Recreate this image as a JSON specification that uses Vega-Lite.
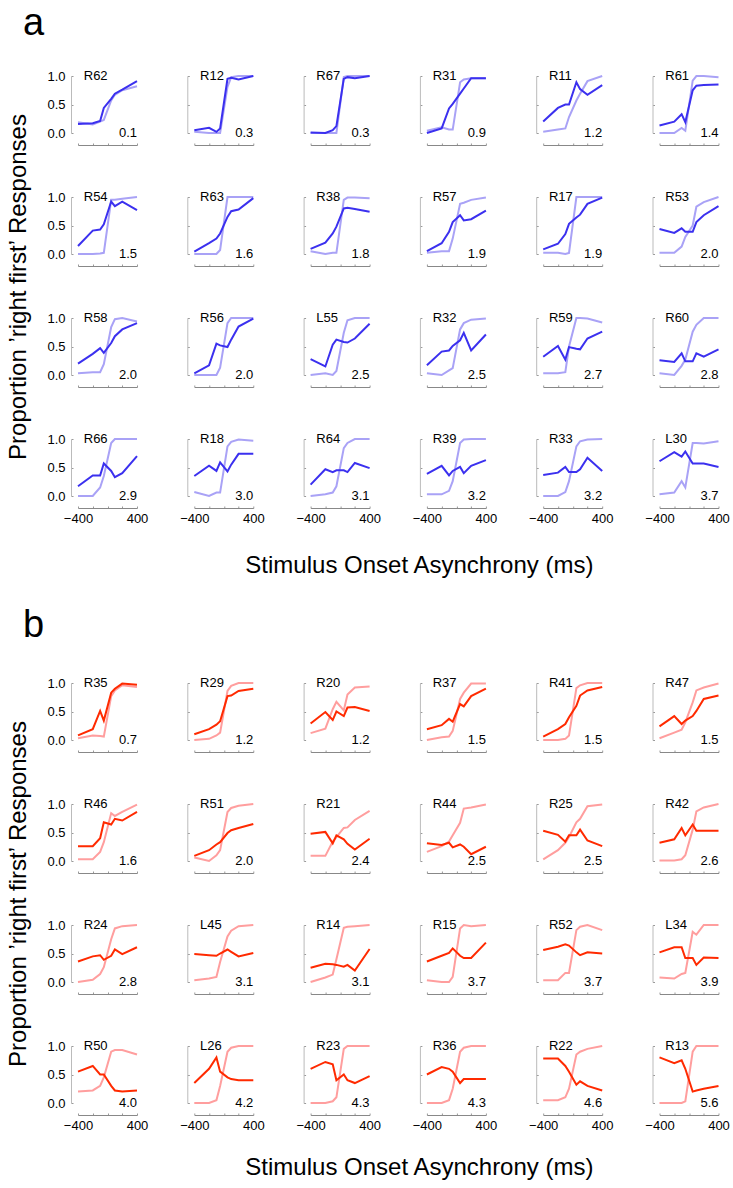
{
"$schema":"https://vega.github.io/schema/vega-lite/v6.json",
"datasets":{
"pts":[
{"s":"R62","t":-400,"u":0.19,"c":0.16},{"s":"R62","t":-200,"u":0.15,"c":0.17},{"s":"R62","t":-100,"u":0.2,"c":0.21},{"s":"R62","t":-50,"u":0.23,"c":0.44},{"s":"R62","t":50,"u":0.57,"c":0.6},{"s":"R62","t":100,"u":0.67,"c":0.69},{"s":"R62","t":200,"u":0.75,"c":0.76},{"s":"R62","t":400,"u":0.82,"c":0.91},
{"s":"R12","t":-400,"u":0.02,"c":0.05},{"s":"R12","t":-200,"u":0,"c":0.09},{"s":"R12","t":-100,"u":0,"c":0.02},{"s":"R12","t":-50,"u":0,"c":0.08},{"s":"R12","t":50,"u":0.81,"c":0.95},{"s":"R12","t":100,"u":0.98,"c":0.97},{"s":"R12","t":200,"u":1,"c":0.94},{"s":"R12","t":400,"u":1,"c":1},
{"s":"R67","t":-400,"u":0,"c":0.01},{"s":"R67","t":-200,"u":0,"c":0},{"s":"R67","t":-100,"u":0,"c":0.05},{"s":"R67","t":-50,"u":0,"c":0.12},{"s":"R67","t":50,"u":0.98,"c":0.95},{"s":"R67","t":100,"u":1,"c":0.98},{"s":"R67","t":200,"u":1,"c":0.96},{"s":"R67","t":400,"u":1,"c":1},
{"s":"R31","t":-400,"u":0.04,"c":0},{"s":"R31","t":-200,"u":0.1,"c":0.08},{"s":"R31","t":-100,"u":0.06,"c":0.43},{"s":"R31","t":-50,"u":0.06,"c":0.51},{"s":"R31","t":50,"u":0.89,"c":0.69},{"s":"R31","t":100,"u":0.94,"c":0.78},{"s":"R31","t":200,"u":0.96,"c":0.96},{"s":"R31","t":400,"u":0.96,"c":0.96},
{"s":"R11","t":-400,"u":0.02,"c":0.2},{"s":"R11","t":-200,"u":0.06,"c":0.44},{"s":"R11","t":-100,"u":0.08,"c":0.5},{"s":"R11","t":-50,"u":0.28,"c":0.5},{"s":"R11","t":50,"u":0.57,"c":0.89},{"s":"R11","t":100,"u":0.69,"c":0.77},{"s":"R11","t":200,"u":0.91,"c":0.67},{"s":"R11","t":400,"u":1,"c":0.84},
{"s":"R61","t":-400,"u":0,"c":0.13},{"s":"R61","t":-200,"u":0,"c":0.2},{"s":"R61","t":-100,"u":0.09,"c":0.33},{"s":"R61","t":-50,"u":0.04,"c":0.19},{"s":"R61","t":50,"u":0.92,"c":0.75},{"s":"R61","t":100,"u":1,"c":0.83},{"s":"R61","t":200,"u":1,"c":0.84},{"s":"R61","t":400,"u":0.98,"c":0.85},
{"s":"R54","t":-400,"u":0,"c":0.14},{"s":"R54","t":-200,"u":0,"c":0.41},{"s":"R54","t":-100,"u":0.01,"c":0.43},{"s":"R54","t":-50,"u":0.02,"c":0.52},{"s":"R54","t":50,"u":0.95,"c":0.92},{"s":"R54","t":100,"u":0.95,"c":0.84},{"s":"R54","t":200,"u":0.97,"c":0.92},{"s":"R54","t":400,"u":1,"c":0.77},
{"s":"R63","t":-400,"u":0,"c":0.04},{"s":"R63","t":-200,"u":0,"c":0.19},{"s":"R63","t":-100,"u":0,"c":0.27},{"s":"R63","t":-50,"u":0.07,"c":0.36},{"s":"R63","t":50,"u":1,"c":0.65},{"s":"R63","t":100,"u":1,"c":0.75},{"s":"R63","t":200,"u":1,"c":0.78},{"s":"R63","t":400,"u":1,"c":0.98},
{"s":"R38","t":-400,"u":0.05,"c":0.09},{"s":"R38","t":-200,"u":0,"c":0.2},{"s":"R38","t":-100,"u":0.02,"c":0.36},{"s":"R38","t":-50,"u":0.02,"c":0.48},{"s":"R38","t":50,"u":0.95,"c":0.8},{"s":"R38","t":100,"u":0.99,"c":0.81},{"s":"R38","t":200,"u":0.99,"c":0.79},{"s":"R38","t":400,"u":0.98,"c":0.74},
{"s":"R57","t":-400,"u":0.02,"c":0.05},{"s":"R57","t":-200,"u":0.05,"c":0.19},{"s":"R57","t":-100,"u":0.05,"c":0.39},{"s":"R57","t":-50,"u":0.27,"c":0.56},{"s":"R57","t":50,"u":0.88,"c":0.68},{"s":"R57","t":100,"u":0.9,"c":0.59},{"s":"R57","t":200,"u":0.95,"c":0.61},{"s":"R57","t":400,"u":0.99,"c":0.76},
{"s":"R17","t":-400,"u":0.02,"c":0.08},{"s":"R17","t":-200,"u":0.02,"c":0.18},{"s":"R17","t":-100,"u":0,"c":0.35},{"s":"R17","t":-50,"u":0.02,"c":0.53},{"s":"R17","t":50,"u":1,"c":0.64},{"s":"R17","t":100,"u":1,"c":0.69},{"s":"R17","t":200,"u":1,"c":0.88},{"s":"R17","t":400,"u":1,"c":0.99},
{"s":"R53","t":-400,"u":0.02,"c":0.44},{"s":"R53","t":-200,"u":0.02,"c":0.37},{"s":"R53","t":-100,"u":0.13,"c":0.45},{"s":"R53","t":-50,"u":0.3,"c":0.39},{"s":"R53","t":50,"u":0.5,"c":0.39},{"s":"R53","t":100,"u":0.83,"c":0.56},{"s":"R53","t":200,"u":0.91,"c":0.68},{"s":"R53","t":400,"u":1,"c":0.84},
{"s":"R58","t":-400,"u":0.03,"c":0.2},{"s":"R58","t":-200,"u":0.05,"c":0.37},{"s":"R58","t":-100,"u":0.05,"c":0.47},{"s":"R58","t":-50,"u":0.19,"c":0.39},{"s":"R58","t":50,"u":0.84,"c":0.56},{"s":"R58","t":100,"u":0.98,"c":0.68},{"s":"R58","t":200,"u":1,"c":0.8},{"s":"R58","t":400,"u":0.94,"c":0.91},
{"s":"R56","t":-400,"u":0,"c":0.03},{"s":"R56","t":-200,"u":0,"c":0.17},{"s":"R56","t":-100,"u":0,"c":0.55},{"s":"R56","t":-50,"u":0.13,"c":0.52},{"s":"R56","t":50,"u":0.91,"c":0.49},{"s":"R56","t":100,"u":1,"c":0.62},{"s":"R56","t":200,"u":1,"c":0.85},{"s":"R56","t":400,"u":1,"c":0.99},
{"s":"L55","t":-400,"u":0,"c":0.28},{"s":"L55","t":-200,"u":0.03,"c":0.15},{"s":"L55","t":-100,"u":0,"c":0.53},{"s":"L55","t":-50,"u":0.07,"c":0.62},{"s":"L55","t":50,"u":0.74,"c":0.58},{"s":"L55","t":100,"u":0.96,"c":0.57},{"s":"L55","t":200,"u":1,"c":0.64},{"s":"L55","t":400,"u":1,"c":0.9},
{"s":"R32","t":-400,"u":0.03,"c":0.17},{"s":"R32","t":-200,"u":0,"c":0.41},{"s":"R32","t":-100,"u":0.08,"c":0.43},{"s":"R32","t":-50,"u":0.12,"c":0.51},{"s":"R32","t":50,"u":0.8,"c":0.61},{"s":"R32","t":100,"u":0.91,"c":0.74},{"s":"R32","t":200,"u":0.97,"c":0.43},{"s":"R32","t":400,"u":0.99,"c":0.71},
{"s":"R59","t":-400,"u":0.03,"c":0.32},{"s":"R59","t":-200,"u":0.03,"c":0.51},{"s":"R59","t":-100,"u":0.05,"c":0.27},{"s":"R59","t":-50,"u":0.5,"c":0.49},{"s":"R59","t":50,"u":1,"c":0.46},{"s":"R59","t":100,"u":1,"c":0.45},{"s":"R59","t":200,"u":0.99,"c":0.64},{"s":"R59","t":400,"u":0.92,"c":0.76},
{"s":"R60","t":-400,"u":0.03,"c":0.26},{"s":"R60","t":-200,"u":0,"c":0.23},{"s":"R60","t":-100,"u":0.16,"c":0.38},{"s":"R60","t":-50,"u":0.27,"c":0.24},{"s":"R60","t":50,"u":0.76,"c":0.24},{"s":"R60","t":100,"u":0.88,"c":0.38},{"s":"R60","t":200,"u":1,"c":0.32},{"s":"R60","t":400,"u":1,"c":0.45},
{"s":"R66","t":-400,"u":0,"c":0.17},{"s":"R66","t":-200,"u":0,"c":0.36},{"s":"R66","t":-100,"u":0.15,"c":0.36},{"s":"R66","t":-50,"u":0.35,"c":0.57},{"s":"R66","t":50,"u":0.93,"c":0.44},{"s":"R66","t":100,"u":1,"c":0.33},{"s":"R66","t":200,"u":1,"c":0.4},{"s":"R66","t":400,"u":1,"c":0.7},
{"s":"R18","t":-400,"u":0.07,"c":0.35},{"s":"R18","t":-200,"u":0,"c":0.53},{"s":"R18","t":-100,"u":0.06,"c":0.44},{"s":"R18","t":-50,"u":0.06,"c":0.59},{"s":"R18","t":50,"u":0.87,"c":0.43},{"s":"R18","t":100,"u":0.95,"c":0.55},{"s":"R18","t":200,"u":0.99,"c":0.74},{"s":"R18","t":400,"u":0.97,"c":0.74},
{"s":"R64","t":-400,"u":0,"c":0.2},{"s":"R64","t":-200,"u":0.03,"c":0.47},{"s":"R64","t":-100,"u":0.06,"c":0.42},{"s":"R64","t":-50,"u":0.17,"c":0.45},{"s":"R64","t":50,"u":0.84,"c":0.45},{"s":"R64","t":100,"u":0.93,"c":0.42},{"s":"R64","t":200,"u":1,"c":0.58},{"s":"R64","t":400,"u":1,"c":0.49},
{"s":"R39","t":-400,"u":0.03,"c":0.39},{"s":"R39","t":-200,"u":0.03,"c":0.53},{"s":"R39","t":-100,"u":0.09,"c":0.36},{"s":"R39","t":-50,"u":0.26,"c":0.44},{"s":"R39","t":50,"u":0.93,"c":0.51},{"s":"R39","t":100,"u":0.99,"c":0.4},{"s":"R39","t":200,"u":1,"c":0.53},{"s":"R39","t":400,"u":1,"c":0.63},
{"s":"R33","t":-400,"u":0,"c":0.37},{"s":"R33","t":-200,"u":0,"c":0.41},{"s":"R33","t":-100,"u":0.07,"c":0.51},{"s":"R33","t":-50,"u":0.26,"c":0.42},{"s":"R33","t":50,"u":0.87,"c":0.42},{"s":"R33","t":100,"u":0.96,"c":0.47},{"s":"R33","t":200,"u":0.99,"c":0.67},{"s":"R33","t":400,"u":1,"c":0.44},
{"s":"L30","t":-400,"u":0.03,"c":0.61},{"s":"L30","t":-200,"u":0.06,"c":0.77},{"s":"L30","t":-100,"u":0.26,"c":0.69},{"s":"L30","t":-50,"u":0.15,"c":0.78},{"s":"L30","t":50,"u":0.93,"c":0.57},{"s":"L30","t":100,"u":0.93,"c":0.57},{"s":"L30","t":200,"u":0.92,"c":0.57},{"s":"L30","t":400,"u":0.96,"c":0.51},
{"s":"R35","t":-400,"u":0.03,"c":0.08},{"s":"R35","t":-200,"u":0.08,"c":0.19},{"s":"R35","t":-100,"u":0.07,"c":0.51},{"s":"R35","t":-50,"u":0.06,"c":0.34},{"s":"R35","t":50,"u":0.77,"c":0.83},{"s":"R35","t":100,"u":0.87,"c":0.9},{"s":"R35","t":200,"u":0.96,"c":0.99},{"s":"R35","t":400,"u":0.93,"c":0.97},
{"s":"R29","t":-400,"u":0,"c":0.1},{"s":"R29","t":-200,"u":0.02,"c":0.19},{"s":"R29","t":-100,"u":0.08,"c":0.27},{"s":"R29","t":-50,"u":0.13,"c":0.33},{"s":"R29","t":50,"u":0.86,"c":0.77},{"s":"R29","t":100,"u":0.95,"c":0.78},{"s":"R29","t":200,"u":1,"c":0.86},{"s":"R29","t":400,"u":1,"c":0.9},
{"s":"R20","t":-400,"u":0.12,"c":0.29},{"s":"R20","t":-200,"u":0.2,"c":0.49},{"s":"R20","t":-100,"u":0.54,"c":0.35},{"s":"R20","t":-50,"u":0.67,"c":0.5},{"s":"R20","t":50,"u":0.52,"c":0.42},{"s":"R20","t":100,"u":0.8,"c":0.57},{"s":"R20","t":200,"u":0.92,"c":0.58},{"s":"R20","t":400,"u":0.94,"c":0.51},
{"s":"R37","t":-400,"u":0,"c":0.19},{"s":"R37","t":-200,"u":0.05,"c":0.26},{"s":"R37","t":-100,"u":0.06,"c":0.37},{"s":"R37","t":-50,"u":0.16,"c":0.32},{"s":"R37","t":50,"u":0.72,"c":0.63},{"s":"R37","t":100,"u":0.83,"c":0.59},{"s":"R37","t":200,"u":0.99,"c":0.77},{"s":"R37","t":400,"u":0.99,"c":0.9},
{"s":"R41","t":-400,"u":0,"c":0.06},{"s":"R41","t":-200,"u":0,"c":0.19},{"s":"R41","t":-100,"u":0.02,"c":0.28},{"s":"R41","t":-50,"u":0.08,"c":0.4},{"s":"R41","t":50,"u":0.91,"c":0.6},{"s":"R41","t":100,"u":0.96,"c":0.78},{"s":"R41","t":200,"u":1,"c":0.87},{"s":"R41","t":400,"u":1,"c":0.93},
{"s":"R47","t":-400,"u":0.03,"c":0.24},{"s":"R47","t":-200,"u":0.13,"c":0.42},{"s":"R47","t":-100,"u":0.18,"c":0.28},{"s":"R47","t":-50,"u":0.31,"c":0.34},{"s":"R47","t":50,"u":0.66,"c":0.42},{"s":"R47","t":100,"u":0.87,"c":0.51},{"s":"R47","t":200,"u":0.92,"c":0.72},{"s":"R47","t":400,"u":0.99,"c":0.78},
{"s":"R46","t":-400,"u":0.03,"c":0.26},{"s":"R46","t":-200,"u":0.03,"c":0.26},{"s":"R46","t":-100,"u":0.16,"c":0.4},{"s":"R46","t":-50,"u":0.33,"c":0.68},{"s":"R46","t":50,"u":0.84,"c":0.64},{"s":"R46","t":100,"u":0.79,"c":0.74},{"s":"R46","t":200,"u":0.86,"c":0.71},{"s":"R46","t":400,"u":0.99,"c":0.86},
{"s":"R51","t":-400,"u":0.06,"c":0.09},{"s":"R51","t":-200,"u":0,"c":0.19},{"s":"R51","t":-100,"u":0.1,"c":0.29},{"s":"R51","t":-50,"u":0.19,"c":0.33},{"s":"R51","t":50,"u":0.86,"c":0.49},{"s":"R51","t":100,"u":0.93,"c":0.54},{"s":"R51","t":200,"u":0.97,"c":0.58},{"s":"R51","t":400,"u":1,"c":0.65},
{"s":"R21","t":-400,"u":0.09,"c":0.48},{"s":"R21","t":-200,"u":0.09,"c":0.51},{"s":"R21","t":-100,"u":0.34,"c":0.31},{"s":"R21","t":-50,"u":0.42,"c":0.45},{"s":"R21","t":50,"u":0.58,"c":0.38},{"s":"R21","t":100,"u":0.59,"c":0.3},{"s":"R21","t":200,"u":0.72,"c":0.2},{"s":"R21","t":400,"u":0.88,"c":0.39},
{"s":"R44","t":-400,"u":0.16,"c":0.31},{"s":"R44","t":-200,"u":0.26,"c":0.28},{"s":"R44","t":-100,"u":0.34,"c":0.32},{"s":"R44","t":-50,"u":0.45,"c":0.24},{"s":"R44","t":50,"u":0.67,"c":0.29},{"s":"R44","t":100,"u":0.92,"c":0.25},{"s":"R44","t":200,"u":0.94,"c":0.12},{"s":"R44","t":400,"u":0.99,"c":0.25},
{"s":"R25","t":-400,"u":0.03,"c":0.53},{"s":"R25","t":-200,"u":0.19,"c":0.46},{"s":"R25","t":-100,"u":0.32,"c":0.34},{"s":"R25","t":-50,"u":0.42,"c":0.45},{"s":"R25","t":50,"u":0.68,"c":0.45},{"s":"R25","t":100,"u":0.74,"c":0.55},{"s":"R25","t":200,"u":0.96,"c":0.36},{"s":"R25","t":400,"u":0.99,"c":0.26},
{"s":"R42","t":-400,"u":0.01,"c":0.32},{"s":"R42","t":-200,"u":0.01,"c":0.38},{"s":"R42","t":-100,"u":0.03,"c":0.58},{"s":"R42","t":-50,"u":0.1,"c":0.45},{"s":"R42","t":50,"u":0.55,"c":0.64},{"s":"R42","t":100,"u":0.87,"c":0.53},{"s":"R42","t":200,"u":0.94,"c":0.53},{"s":"R42","t":400,"u":1,"c":0.53},
{"s":"R24","t":-400,"u":0,"c":0.36},{"s":"R24","t":-200,"u":0.04,"c":0.45},{"s":"R24","t":-100,"u":0.14,"c":0.47},{"s":"R24","t":-50,"u":0.26,"c":0.39},{"s":"R24","t":50,"u":0.75,"c":0.46},{"s":"R24","t":100,"u":0.94,"c":0.57},{"s":"R24","t":200,"u":0.98,"c":0.49},{"s":"R24","t":400,"u":1,"c":0.61},
{"s":"L45","t":-400,"u":0.03,"c":0.49},{"s":"L45","t":-200,"u":0.06,"c":0.47},{"s":"L45","t":-100,"u":0.09,"c":0.46},{"s":"L45","t":-50,"u":0.35,"c":0.5},{"s":"L45","t":50,"u":0.8,"c":0.57},{"s":"L45","t":100,"u":0.9,"c":0.53},{"s":"L45","t":200,"u":0.98,"c":0.45},{"s":"L45","t":400,"u":1,"c":0.51},
{"s":"R14","t":-400,"u":0,"c":0.25},{"s":"R14","t":-200,"u":0.08,"c":0.32},{"s":"R14","t":-100,"u":0.13,"c":0.31},{"s":"R14","t":-50,"u":0.4,"c":0.3},{"s":"R14","t":50,"u":0.95,"c":0.27},{"s":"R14","t":100,"u":0.97,"c":0.3},{"s":"R14","t":200,"u":0.98,"c":0.2},{"s":"R14","t":400,"u":1,"c":0.58},
{"s":"R15","t":-400,"u":0.03,"c":0.36},{"s":"R15","t":-200,"u":0,"c":0.46},{"s":"R15","t":-100,"u":0,"c":0.51},{"s":"R15","t":-50,"u":0.09,"c":0.59},{"s":"R15","t":50,"u":0.94,"c":0.46},{"s":"R15","t":100,"u":1,"c":0.42},{"s":"R15","t":200,"u":0.98,"c":0.42},{"s":"R15","t":400,"u":1,"c":0.69},
{"s":"R52","t":-400,"u":0.03,"c":0.56},{"s":"R52","t":-200,"u":0.03,"c":0.62},{"s":"R52","t":-100,"u":0.16,"c":0.66},{"s":"R52","t":-50,"u":0.16,"c":0.64},{"s":"R52","t":50,"u":0.91,"c":0.52},{"s":"R52","t":100,"u":0.97,"c":0.47},{"s":"R52","t":200,"u":1,"c":0.52},{"s":"R52","t":400,"u":0.91,"c":0.5},
{"s":"L34","t":-400,"u":0.08,"c":0.52},{"s":"L34","t":-200,"u":0.06,"c":0.61},{"s":"L34","t":-100,"u":0.14,"c":0.61},{"s":"L34","t":-50,"u":0.16,"c":0.42},{"s":"L34","t":50,"u":0.88,"c":0.42},{"s":"L34","t":100,"u":0.83,"c":0.3},{"s":"L34","t":200,"u":1,"c":0.43},{"s":"L34","t":400,"u":1,"c":0.42},
{"s":"R50","t":-400,"u":0.2,"c":0.55},{"s":"R50","t":-200,"u":0.22,"c":0.65},{"s":"R50","t":-100,"u":0.3,"c":0.5},{"s":"R50","t":-50,"u":0.45,"c":0.5},{"s":"R50","t":50,"u":0.9,"c":0.3},{"s":"R50","t":100,"u":0.93,"c":0.22},{"s":"R50","t":200,"u":0.93,"c":0.2},{"s":"R50","t":400,"u":0.85,"c":0.22},
{"s":"L26","t":-400,"u":0,"c":0.35},{"s":"L26","t":-200,"u":0,"c":0.6},{"s":"L26","t":-100,"u":0.05,"c":0.8},{"s":"L26","t":-50,"u":0.3,"c":0.55},{"s":"L26","t":50,"u":0.9,"c":0.45},{"s":"L26","t":100,"u":0.97,"c":0.42},{"s":"L26","t":200,"u":1,"c":0.4},{"s":"L26","t":400,"u":1,"c":0.4},
{"s":"R23","t":-400,"u":0,"c":0.6},{"s":"R23","t":-200,"u":0,"c":0.72},{"s":"R23","t":-100,"u":0.03,"c":0.68},{"s":"R23","t":-50,"u":0.1,"c":0.4},{"s":"R23","t":50,"u":0.95,"c":0.5},{"s":"R23","t":100,"u":1,"c":0.4},{"s":"R23","t":200,"u":1,"c":0.35},{"s":"R23","t":400,"u":1,"c":0.47},
{"s":"R36","t":-400,"u":0,"c":0.5},{"s":"R36","t":-200,"u":0,"c":0.63},{"s":"R36","t":-100,"u":0.05,"c":0.6},{"s":"R36","t":-50,"u":0.25,"c":0.55},{"s":"R36","t":50,"u":0.9,"c":0.35},{"s":"R36","t":100,"u":0.97,"c":0.42},{"s":"R36","t":200,"u":1,"c":0.42},{"s":"R36","t":400,"u":1,"c":0.42},
{"s":"R22","t":-400,"u":0.05,"c":0.78},{"s":"R22","t":-200,"u":0.05,"c":0.78},{"s":"R22","t":-100,"u":0.1,"c":0.65},{"s":"R22","t":-50,"u":0.25,"c":0.55},{"s":"R22","t":50,"u":0.85,"c":0.32},{"s":"R22","t":100,"u":0.9,"c":0.38},{"s":"R22","t":200,"u":0.95,"c":0.3},{"s":"R22","t":400,"u":1,"c":0.22},
{"s":"R13","t":-400,"u":0,"c":0.8},{"s":"R13","t":-200,"u":0,"c":0.7},{"s":"R13","t":-100,"u":0,"c":0.75},{"s":"R13","t":-50,"u":0.03,"c":0.6},{"s":"R13","t":50,"u":0.9,"c":0.2},{"s":"R13","t":100,"u":1,"c":0.22},{"s":"R13","t":200,"u":1,"c":0.25},{"s":"R13","t":400,"u":1,"c":0.3}
],
"lab":[
{"s":"R62","n":0.1},{"s":"R12","n":0.3},{"s":"R67","n":0.3},{"s":"R31","n":0.9},{"s":"R11","n":1.2},{"s":"R61","n":1.4},
{"s":"R54","n":1.5},{"s":"R63","n":1.6},{"s":"R38","n":1.8},{"s":"R57","n":1.9},{"s":"R17","n":1.9},{"s":"R53","n":2.0},
{"s":"R58","n":2.0},{"s":"R56","n":2.0},{"s":"L55","n":2.5},{"s":"R32","n":2.5},{"s":"R59","n":2.7},{"s":"R60","n":2.8},
{"s":"R66","n":2.9},{"s":"R18","n":3.0},{"s":"R64","n":3.1},{"s":"R39","n":3.2},{"s":"R33","n":3.2},{"s":"L30","n":3.7},
{"s":"R35","n":0.7},{"s":"R29","n":1.2},{"s":"R20","n":1.2},{"s":"R37","n":1.5},{"s":"R41","n":1.5},{"s":"R47","n":1.5},
{"s":"R46","n":1.6},{"s":"R51","n":2.0},{"s":"R21","n":2.4},{"s":"R44","n":2.5},{"s":"R25","n":2.5},{"s":"R42","n":2.6},
{"s":"R24","n":2.8},{"s":"L45","n":3.1},{"s":"R14","n":3.1},{"s":"R15","n":3.7},{"s":"R52","n":3.7},{"s":"L34","n":3.9},
{"s":"R50","n":4.0},{"s":"L26","n":4.2},{"s":"R23","n":4.3},{"s":"R36","n":4.3},{"s":"R22","n":4.6},{"s":"R13","n":5.6}
]},
"data":{"name":"pts"},
"spacing":30,
"vconcat":[
{"title":{"text":"a","offset":27,"dx":17},"columns":6,"bounds":"flush","spacing":{"row":64,"column":57.3},"concat":[
{"transform":[{"filter":"datum.s=='R62'"}],"encoding":{"x":{"field":"t","type":"quantitative","scale":{"domain":[-400,400]},"title":null,"axis":{"values":[-400,-200,0,200,400]}}},"layer":[{"mark":{"type":"line","color":"#a9a2f6"},"encoding":{"y":{"field":"u","type":"quantitative","scale":{"domain":[0,1]},"title":null,"axis":{"labels":true}}}},{"mark":{"type":"line","color":"#3b30ef"},"encoding":{"y":{"field":"c","type":"quantitative","title":null}}},{"transform":[{"filter":"datum.t==400"},{"lookup":"s","from":{"data":{"name":"lab"},"key":"s","fields":["n"]}}],"layer":[{"mark":{"type":"text","align":"left"},"encoding":{"text":{"field":"s","type":"nominal"},"x":{"datum":-322},"y":{"datum":1}}},{"mark":{"type":"text","align":"right"},"encoding":{"text":{"field":"n","type":"quantitative","format":".1f"},"x":{"datum":400},"y":{"datum":0}}}]}]},
{"transform":[{"filter":"datum.s=='R12'"}],"encoding":{"x":{"field":"t","type":"quantitative","scale":{"domain":[-400,400]},"title":null,"axis":{"values":[-400,-200,0,200,400]}}},"layer":[{"mark":{"type":"line","color":"#a9a2f6"},"encoding":{"y":{"field":"u","type":"quantitative","scale":{"domain":[0,1]},"title":null}}},{"mark":{"type":"line","color":"#3b30ef"},"encoding":{"y":{"field":"c","type":"quantitative","title":null}}},{"transform":[{"filter":"datum.t==400"},{"lookup":"s","from":{"data":{"name":"lab"},"key":"s","fields":["n"]}}],"layer":[{"mark":{"type":"text","align":"left"},"encoding":{"text":{"field":"s","type":"nominal"},"x":{"datum":-322},"y":{"datum":1}}},{"mark":{"type":"text","align":"right"},"encoding":{"text":{"field":"n","type":"quantitative","format":".1f"},"x":{"datum":400},"y":{"datum":0}}}]}]},
{"transform":[{"filter":"datum.s=='R67'"}],"encoding":{"x":{"field":"t","type":"quantitative","scale":{"domain":[-400,400]},"title":null,"axis":{"values":[-400,-200,0,200,400]}}},"layer":[{"mark":{"type":"line","color":"#a9a2f6"},"encoding":{"y":{"field":"u","type":"quantitative","scale":{"domain":[0,1]},"title":null}}},{"mark":{"type":"line","color":"#3b30ef"},"encoding":{"y":{"field":"c","type":"quantitative","title":null}}},{"transform":[{"filter":"datum.t==400"},{"lookup":"s","from":{"data":{"name":"lab"},"key":"s","fields":["n"]}}],"layer":[{"mark":{"type":"text","align":"left"},"encoding":{"text":{"field":"s","type":"nominal"},"x":{"datum":-322},"y":{"datum":1}}},{"mark":{"type":"text","align":"right"},"encoding":{"text":{"field":"n","type":"quantitative","format":".1f"},"x":{"datum":400},"y":{"datum":0}}}]}]},
{"transform":[{"filter":"datum.s=='R31'"}],"encoding":{"x":{"field":"t","type":"quantitative","scale":{"domain":[-400,400]},"title":null,"axis":{"values":[-400,-200,0,200,400]}}},"layer":[{"mark":{"type":"line","color":"#a9a2f6"},"encoding":{"y":{"field":"u","type":"quantitative","scale":{"domain":[0,1]},"title":null}}},{"mark":{"type":"line","color":"#3b30ef"},"encoding":{"y":{"field":"c","type":"quantitative","title":null}}},{"transform":[{"filter":"datum.t==400"},{"lookup":"s","from":{"data":{"name":"lab"},"key":"s","fields":["n"]}}],"layer":[{"mark":{"type":"text","align":"left"},"encoding":{"text":{"field":"s","type":"nominal"},"x":{"datum":-322},"y":{"datum":1}}},{"mark":{"type":"text","align":"right"},"encoding":{"text":{"field":"n","type":"quantitative","format":".1f"},"x":{"datum":400},"y":{"datum":0}}}]}]},
{"transform":[{"filter":"datum.s=='R11'"}],"encoding":{"x":{"field":"t","type":"quantitative","scale":{"domain":[-400,400]},"title":null,"axis":{"values":[-400,-200,0,200,400]}}},"layer":[{"mark":{"type":"line","color":"#a9a2f6"},"encoding":{"y":{"field":"u","type":"quantitative","scale":{"domain":[0,1]},"title":null}}},{"mark":{"type":"line","color":"#3b30ef"},"encoding":{"y":{"field":"c","type":"quantitative","title":null}}},{"transform":[{"filter":"datum.t==400"},{"lookup":"s","from":{"data":{"name":"lab"},"key":"s","fields":["n"]}}],"layer":[{"mark":{"type":"text","align":"left"},"encoding":{"text":{"field":"s","type":"nominal"},"x":{"datum":-322},"y":{"datum":1}}},{"mark":{"type":"text","align":"right"},"encoding":{"text":{"field":"n","type":"quantitative","format":".1f"},"x":{"datum":400},"y":{"datum":0}}}]}]},
{"transform":[{"filter":"datum.s=='R61'"}],"encoding":{"x":{"field":"t","type":"quantitative","scale":{"domain":[-400,400]},"title":null,"axis":{"values":[-400,-200,0,200,400]}}},"layer":[{"mark":{"type":"line","color":"#a9a2f6"},"encoding":{"y":{"field":"u","type":"quantitative","scale":{"domain":[0,1]},"title":null}}},{"mark":{"type":"line","color":"#3b30ef"},"encoding":{"y":{"field":"c","type":"quantitative","title":null}}},{"transform":[{"filter":"datum.t==400"},{"lookup":"s","from":{"data":{"name":"lab"},"key":"s","fields":["n"]}}],"layer":[{"mark":{"type":"text","align":"left"},"encoding":{"text":{"field":"s","type":"nominal"},"x":{"datum":-322},"y":{"datum":1}}},{"mark":{"type":"text","align":"right"},"encoding":{"text":{"field":"n","type":"quantitative","format":".1f"},"x":{"datum":400},"y":{"datum":0}}}]}]},
{"transform":[{"filter":"datum.s=='R54'"}],"encoding":{"x":{"field":"t","type":"quantitative","scale":{"domain":[-400,400]},"title":null,"axis":{"values":[-400,-200,0,200,400]}}},"layer":[{"mark":{"type":"line","color":"#a9a2f6"},"encoding":{"y":{"field":"u","type":"quantitative","scale":{"domain":[0,1]},"title":"Proportion ’right first’ Responses","axis":{"labels":true,"titleX":-53,"titleY":89.5,"titleAngle":270,"titleAlign":"center","titleBaseline":"middle"}}}},{"mark":{"type":"line","color":"#3b30ef"},"encoding":{"y":{"field":"c","type":"quantitative"}}},{"transform":[{"filter":"datum.t==400"},{"lookup":"s","from":{"data":{"name":"lab"},"key":"s","fields":["n"]}}],"layer":[{"mark":{"type":"text","align":"left"},"encoding":{"text":{"field":"s","type":"nominal"},"x":{"datum":-322},"y":{"datum":1}}},{"mark":{"type":"text","align":"right"},"encoding":{"text":{"field":"n","type":"quantitative","format":".1f"},"x":{"datum":400},"y":{"datum":0}}}]}]},
{"transform":[{"filter":"datum.s=='R63'"}],"encoding":{"x":{"field":"t","type":"quantitative","scale":{"domain":[-400,400]},"title":null,"axis":{"values":[-400,-200,0,200,400]}}},"layer":[{"mark":{"type":"line","color":"#a9a2f6"},"encoding":{"y":{"field":"u","type":"quantitative","scale":{"domain":[0,1]},"title":null}}},{"mark":{"type":"line","color":"#3b30ef"},"encoding":{"y":{"field":"c","type":"quantitative","title":null}}},{"transform":[{"filter":"datum.t==400"},{"lookup":"s","from":{"data":{"name":"lab"},"key":"s","fields":["n"]}}],"layer":[{"mark":{"type":"text","align":"left"},"encoding":{"text":{"field":"s","type":"nominal"},"x":{"datum":-322},"y":{"datum":1}}},{"mark":{"type":"text","align":"right"},"encoding":{"text":{"field":"n","type":"quantitative","format":".1f"},"x":{"datum":400},"y":{"datum":0}}}]}]},
{"transform":[{"filter":"datum.s=='R38'"}],"encoding":{"x":{"field":"t","type":"quantitative","scale":{"domain":[-400,400]},"title":null,"axis":{"values":[-400,-200,0,200,400]}}},"layer":[{"mark":{"type":"line","color":"#a9a2f6"},"encoding":{"y":{"field":"u","type":"quantitative","scale":{"domain":[0,1]},"title":null}}},{"mark":{"type":"line","color":"#3b30ef"},"encoding":{"y":{"field":"c","type":"quantitative","title":null}}},{"transform":[{"filter":"datum.t==400"},{"lookup":"s","from":{"data":{"name":"lab"},"key":"s","fields":["n"]}}],"layer":[{"mark":{"type":"text","align":"left"},"encoding":{"text":{"field":"s","type":"nominal"},"x":{"datum":-322},"y":{"datum":1}}},{"mark":{"type":"text","align":"right"},"encoding":{"text":{"field":"n","type":"quantitative","format":".1f"},"x":{"datum":400},"y":{"datum":0}}}]}]},
{"transform":[{"filter":"datum.s=='R57'"}],"encoding":{"x":{"field":"t","type":"quantitative","scale":{"domain":[-400,400]},"title":null,"axis":{"values":[-400,-200,0,200,400]}}},"layer":[{"mark":{"type":"line","color":"#a9a2f6"},"encoding":{"y":{"field":"u","type":"quantitative","scale":{"domain":[0,1]},"title":null}}},{"mark":{"type":"line","color":"#3b30ef"},"encoding":{"y":{"field":"c","type":"quantitative","title":null}}},{"transform":[{"filter":"datum.t==400"},{"lookup":"s","from":{"data":{"name":"lab"},"key":"s","fields":["n"]}}],"layer":[{"mark":{"type":"text","align":"left"},"encoding":{"text":{"field":"s","type":"nominal"},"x":{"datum":-322},"y":{"datum":1}}},{"mark":{"type":"text","align":"right"},"encoding":{"text":{"field":"n","type":"quantitative","format":".1f"},"x":{"datum":400},"y":{"datum":0}}}]}]},
{"transform":[{"filter":"datum.s=='R17'"}],"encoding":{"x":{"field":"t","type":"quantitative","scale":{"domain":[-400,400]},"title":null,"axis":{"values":[-400,-200,0,200,400]}}},"layer":[{"mark":{"type":"line","color":"#a9a2f6"},"encoding":{"y":{"field":"u","type":"quantitative","scale":{"domain":[0,1]},"title":null}}},{"mark":{"type":"line","color":"#3b30ef"},"encoding":{"y":{"field":"c","type":"quantitative","title":null}}},{"transform":[{"filter":"datum.t==400"},{"lookup":"s","from":{"data":{"name":"lab"},"key":"s","fields":["n"]}}],"layer":[{"mark":{"type":"text","align":"left"},"encoding":{"text":{"field":"s","type":"nominal"},"x":{"datum":-322},"y":{"datum":1}}},{"mark":{"type":"text","align":"right"},"encoding":{"text":{"field":"n","type":"quantitative","format":".1f"},"x":{"datum":400},"y":{"datum":0}}}]}]},
{"transform":[{"filter":"datum.s=='R53'"}],"encoding":{"x":{"field":"t","type":"quantitative","scale":{"domain":[-400,400]},"title":null,"axis":{"values":[-400,-200,0,200,400]}}},"layer":[{"mark":{"type":"line","color":"#a9a2f6"},"encoding":{"y":{"field":"u","type":"quantitative","scale":{"domain":[0,1]},"title":null}}},{"mark":{"type":"line","color":"#3b30ef"},"encoding":{"y":{"field":"c","type":"quantitative","title":null}}},{"transform":[{"filter":"datum.t==400"},{"lookup":"s","from":{"data":{"name":"lab"},"key":"s","fields":["n"]}}],"layer":[{"mark":{"type":"text","align":"left"},"encoding":{"text":{"field":"s","type":"nominal"},"x":{"datum":-322},"y":{"datum":1}}},{"mark":{"type":"text","align":"right"},"encoding":{"text":{"field":"n","type":"quantitative","format":".1f"},"x":{"datum":400},"y":{"datum":0}}}]}]},
{"transform":[{"filter":"datum.s=='R58'"}],"encoding":{"x":{"field":"t","type":"quantitative","scale":{"domain":[-400,400]},"title":null,"axis":{"values":[-400,-200,0,200,400]}}},"layer":[{"mark":{"type":"line","color":"#a9a2f6"},"encoding":{"y":{"field":"u","type":"quantitative","scale":{"domain":[0,1]},"title":null,"axis":{"labels":true}}}},{"mark":{"type":"line","color":"#3b30ef"},"encoding":{"y":{"field":"c","type":"quantitative","title":null}}},{"transform":[{"filter":"datum.t==400"},{"lookup":"s","from":{"data":{"name":"lab"},"key":"s","fields":["n"]}}],"layer":[{"mark":{"type":"text","align":"left"},"encoding":{"text":{"field":"s","type":"nominal"},"x":{"datum":-322},"y":{"datum":1}}},{"mark":{"type":"text","align":"right"},"encoding":{"text":{"field":"n","type":"quantitative","format":".1f"},"x":{"datum":400},"y":{"datum":0}}}]}]},
{"transform":[{"filter":"datum.s=='R56'"}],"encoding":{"x":{"field":"t","type":"quantitative","scale":{"domain":[-400,400]},"title":null,"axis":{"values":[-400,-200,0,200,400]}}},"layer":[{"mark":{"type":"line","color":"#a9a2f6"},"encoding":{"y":{"field":"u","type":"quantitative","scale":{"domain":[0,1]},"title":null}}},{"mark":{"type":"line","color":"#3b30ef"},"encoding":{"y":{"field":"c","type":"quantitative","title":null}}},{"transform":[{"filter":"datum.t==400"},{"lookup":"s","from":{"data":{"name":"lab"},"key":"s","fields":["n"]}}],"layer":[{"mark":{"type":"text","align":"left"},"encoding":{"text":{"field":"s","type":"nominal"},"x":{"datum":-322},"y":{"datum":1}}},{"mark":{"type":"text","align":"right"},"encoding":{"text":{"field":"n","type":"quantitative","format":".1f"},"x":{"datum":400},"y":{"datum":0}}}]}]},
{"transform":[{"filter":"datum.s=='L55'"}],"encoding":{"x":{"field":"t","type":"quantitative","scale":{"domain":[-400,400]},"title":null,"axis":{"values":[-400,-200,0,200,400]}}},"layer":[{"mark":{"type":"line","color":"#a9a2f6"},"encoding":{"y":{"field":"u","type":"quantitative","scale":{"domain":[0,1]},"title":null}}},{"mark":{"type":"line","color":"#3b30ef"},"encoding":{"y":{"field":"c","type":"quantitative","title":null}}},{"transform":[{"filter":"datum.t==400"},{"lookup":"s","from":{"data":{"name":"lab"},"key":"s","fields":["n"]}}],"layer":[{"mark":{"type":"text","align":"left"},"encoding":{"text":{"field":"s","type":"nominal"},"x":{"datum":-322},"y":{"datum":1}}},{"mark":{"type":"text","align":"right"},"encoding":{"text":{"field":"n","type":"quantitative","format":".1f"},"x":{"datum":400},"y":{"datum":0}}}]}]},
{"transform":[{"filter":"datum.s=='R32'"}],"encoding":{"x":{"field":"t","type":"quantitative","scale":{"domain":[-400,400]},"title":null,"axis":{"values":[-400,-200,0,200,400]}}},"layer":[{"mark":{"type":"line","color":"#a9a2f6"},"encoding":{"y":{"field":"u","type":"quantitative","scale":{"domain":[0,1]},"title":null}}},{"mark":{"type":"line","color":"#3b30ef"},"encoding":{"y":{"field":"c","type":"quantitative","title":null}}},{"transform":[{"filter":"datum.t==400"},{"lookup":"s","from":{"data":{"name":"lab"},"key":"s","fields":["n"]}}],"layer":[{"mark":{"type":"text","align":"left"},"encoding":{"text":{"field":"s","type":"nominal"},"x":{"datum":-322},"y":{"datum":1}}},{"mark":{"type":"text","align":"right"},"encoding":{"text":{"field":"n","type":"quantitative","format":".1f"},"x":{"datum":400},"y":{"datum":0}}}]}]},
{"transform":[{"filter":"datum.s=='R59'"}],"encoding":{"x":{"field":"t","type":"quantitative","scale":{"domain":[-400,400]},"title":null,"axis":{"values":[-400,-200,0,200,400]}}},"layer":[{"mark":{"type":"line","color":"#a9a2f6"},"encoding":{"y":{"field":"u","type":"quantitative","scale":{"domain":[0,1]},"title":null}}},{"mark":{"type":"line","color":"#3b30ef"},"encoding":{"y":{"field":"c","type":"quantitative","title":null}}},{"transform":[{"filter":"datum.t==400"},{"lookup":"s","from":{"data":{"name":"lab"},"key":"s","fields":["n"]}}],"layer":[{"mark":{"type":"text","align":"left"},"encoding":{"text":{"field":"s","type":"nominal"},"x":{"datum":-322},"y":{"datum":1}}},{"mark":{"type":"text","align":"right"},"encoding":{"text":{"field":"n","type":"quantitative","format":".1f"},"x":{"datum":400},"y":{"datum":0}}}]}]},
{"transform":[{"filter":"datum.s=='R60'"}],"encoding":{"x":{"field":"t","type":"quantitative","scale":{"domain":[-400,400]},"title":null,"axis":{"values":[-400,-200,0,200,400]}}},"layer":[{"mark":{"type":"line","color":"#a9a2f6"},"encoding":{"y":{"field":"u","type":"quantitative","scale":{"domain":[0,1]},"title":null}}},{"mark":{"type":"line","color":"#3b30ef"},"encoding":{"y":{"field":"c","type":"quantitative","title":null}}},{"transform":[{"filter":"datum.t==400"},{"lookup":"s","from":{"data":{"name":"lab"},"key":"s","fields":["n"]}}],"layer":[{"mark":{"type":"text","align":"left"},"encoding":{"text":{"field":"s","type":"nominal"},"x":{"datum":-322},"y":{"datum":1}}},{"mark":{"type":"text","align":"right"},"encoding":{"text":{"field":"n","type":"quantitative","format":".1f"},"x":{"datum":400},"y":{"datum":0}}}]}]},
{"transform":[{"filter":"datum.s=='R66'"}],"encoding":{"x":{"field":"t","type":"quantitative","scale":{"domain":[-400,400]},"title":null,"axis":{"values":[-400,-200,0,200,400],"labels":true}}},"layer":[{"mark":{"type":"line","color":"#a9a2f6"},"encoding":{"y":{"field":"u","type":"quantitative","scale":{"domain":[0,1]},"title":null,"axis":{"labels":true}}}},{"mark":{"type":"line","color":"#3b30ef"},"encoding":{"y":{"field":"c","type":"quantitative","title":null}}},{"transform":[{"filter":"datum.t==400"},{"lookup":"s","from":{"data":{"name":"lab"},"key":"s","fields":["n"]}}],"layer":[{"mark":{"type":"text","align":"left"},"encoding":{"text":{"field":"s","type":"nominal"},"x":{"datum":-322},"y":{"datum":1}}},{"mark":{"type":"text","align":"right"},"encoding":{"text":{"field":"n","type":"quantitative","format":".1f"},"x":{"datum":400},"y":{"datum":0}}}]}]},
{"transform":[{"filter":"datum.s=='R18'"}],"encoding":{"x":{"field":"t","type":"quantitative","scale":{"domain":[-400,400]},"title":null,"axis":{"values":[-400,-200,0,200,400],"labels":true}}},"layer":[{"mark":{"type":"line","color":"#a9a2f6"},"encoding":{"y":{"field":"u","type":"quantitative","scale":{"domain":[0,1]},"title":null}}},{"mark":{"type":"line","color":"#3b30ef"},"encoding":{"y":{"field":"c","type":"quantitative","title":null}}},{"transform":[{"filter":"datum.t==400"},{"lookup":"s","from":{"data":{"name":"lab"},"key":"s","fields":["n"]}}],"layer":[{"mark":{"type":"text","align":"left"},"encoding":{"text":{"field":"s","type":"nominal"},"x":{"datum":-322},"y":{"datum":1}}},{"mark":{"type":"text","align":"right"},"encoding":{"text":{"field":"n","type":"quantitative","format":".1f"},"x":{"datum":400},"y":{"datum":0}}}]}]},
{"transform":[{"filter":"datum.s=='R64'"}],"encoding":{"x":{"field":"t","type":"quantitative","scale":{"domain":[-400,400]},"title":null,"axis":{"values":[-400,-200,0,200,400],"labels":true}}},"layer":[{"mark":{"type":"line","color":"#a9a2f6"},"encoding":{"y":{"field":"u","type":"quantitative","scale":{"domain":[0,1]},"title":null}}},{"mark":{"type":"line","color":"#3b30ef"},"encoding":{"y":{"field":"c","type":"quantitative","title":null}}},{"transform":[{"filter":"datum.t==400"},{"lookup":"s","from":{"data":{"name":"lab"},"key":"s","fields":["n"]}}],"layer":[{"mark":{"type":"text","align":"left"},"encoding":{"text":{"field":"s","type":"nominal"},"x":{"datum":-322},"y":{"datum":1}}},{"mark":{"type":"text","align":"right"},"encoding":{"text":{"field":"n","type":"quantitative","format":".1f"},"x":{"datum":400},"y":{"datum":0}}}]}]},
{"transform":[{"filter":"datum.s=='R39'"}],"encoding":{"x":{"field":"t","type":"quantitative","scale":{"domain":[-400,400]},"title":"Stimulus Onset Asynchrony (ms)","axis":{"values":[-400,-200,0,200,400],"labels":true,"titleX":-8,"titleY":57,"titleAlign":"center","titleBaseline":"middle"}}},"layer":[{"mark":{"type":"line","color":"#a9a2f6"},"encoding":{"y":{"field":"u","type":"quantitative","scale":{"domain":[0,1]},"title":null}}},{"mark":{"type":"line","color":"#3b30ef"},"encoding":{"y":{"field":"c","type":"quantitative","title":null}}},{"transform":[{"filter":"datum.t==400"},{"lookup":"s","from":{"data":{"name":"lab"},"key":"s","fields":["n"]}}],"layer":[{"mark":{"type":"text","align":"left"},"encoding":{"text":{"field":"s","type":"nominal"},"x":{"datum":-322},"y":{"datum":1}}},{"mark":{"type":"text","align":"right"},"encoding":{"text":{"field":"n","type":"quantitative","format":".1f"},"x":{"datum":400},"y":{"datum":0}}}]}]},
{"transform":[{"filter":"datum.s=='R33'"}],"encoding":{"x":{"field":"t","type":"quantitative","scale":{"domain":[-400,400]},"title":null,"axis":{"values":[-400,-200,0,200,400],"labels":true}}},"layer":[{"mark":{"type":"line","color":"#a9a2f6"},"encoding":{"y":{"field":"u","type":"quantitative","scale":{"domain":[0,1]},"title":null}}},{"mark":{"type":"line","color":"#3b30ef"},"encoding":{"y":{"field":"c","type":"quantitative","title":null}}},{"transform":[{"filter":"datum.t==400"},{"lookup":"s","from":{"data":{"name":"lab"},"key":"s","fields":["n"]}}],"layer":[{"mark":{"type":"text","align":"left"},"encoding":{"text":{"field":"s","type":"nominal"},"x":{"datum":-322},"y":{"datum":1}}},{"mark":{"type":"text","align":"right"},"encoding":{"text":{"field":"n","type":"quantitative","format":".1f"},"x":{"datum":400},"y":{"datum":0}}}]}]},
{"transform":[{"filter":"datum.s=='L30'"}],"encoding":{"x":{"field":"t","type":"quantitative","scale":{"domain":[-400,400]},"title":null,"axis":{"values":[-400,-200,0,200,400],"labels":true}}},"layer":[{"mark":{"type":"line","color":"#a9a2f6"},"encoding":{"y":{"field":"u","type":"quantitative","scale":{"domain":[0,1]},"title":null}}},{"mark":{"type":"line","color":"#3b30ef"},"encoding":{"y":{"field":"c","type":"quantitative","title":null}}},{"transform":[{"filter":"datum.t==400"},{"lookup":"s","from":{"data":{"name":"lab"},"key":"s","fields":["n"]}}],"layer":[{"mark":{"type":"text","align":"left"},"encoding":{"text":{"field":"s","type":"nominal"},"x":{"datum":-322},"y":{"datum":1}}},{"mark":{"type":"text","align":"right"},"encoding":{"text":{"field":"n","type":"quantitative","format":".1f"},"x":{"datum":400},"y":{"datum":0}}}]}]}
]},
{"title":{"text":"b","offset":32,"dx":17},"columns":6,"bounds":"flush","spacing":{"row":64,"column":57.3},"concat":[
{"transform":[{"filter":"datum.s=='R35'"}],"encoding":{"x":{"field":"t","type":"quantitative","scale":{"domain":[-400,400]},"title":null,"axis":{"values":[-400,-200,0,200,400]}}},"layer":[{"mark":{"type":"line","color":"#ff9e9e"},"encoding":{"y":{"field":"u","type":"quantitative","scale":{"domain":[0,1]},"title":null,"axis":{"labels":true}}}},{"mark":{"type":"line","color":"#ff2a00"},"encoding":{"y":{"field":"c","type":"quantitative","title":null}}},{"transform":[{"filter":"datum.t==400"},{"lookup":"s","from":{"data":{"name":"lab"},"key":"s","fields":["n"]}}],"layer":[{"mark":{"type":"text","align":"left"},"encoding":{"text":{"field":"s","type":"nominal"},"x":{"datum":-322},"y":{"datum":1}}},{"mark":{"type":"text","align":"right"},"encoding":{"text":{"field":"n","type":"quantitative","format":".1f"},"x":{"datum":400},"y":{"datum":0}}}]}]},
{"transform":[{"filter":"datum.s=='R29'"}],"encoding":{"x":{"field":"t","type":"quantitative","scale":{"domain":[-400,400]},"title":null,"axis":{"values":[-400,-200,0,200,400]}}},"layer":[{"mark":{"type":"line","color":"#ff9e9e"},"encoding":{"y":{"field":"u","type":"quantitative","scale":{"domain":[0,1]},"title":null}}},{"mark":{"type":"line","color":"#ff2a00"},"encoding":{"y":{"field":"c","type":"quantitative","title":null}}},{"transform":[{"filter":"datum.t==400"},{"lookup":"s","from":{"data":{"name":"lab"},"key":"s","fields":["n"]}}],"layer":[{"mark":{"type":"text","align":"left"},"encoding":{"text":{"field":"s","type":"nominal"},"x":{"datum":-322},"y":{"datum":1}}},{"mark":{"type":"text","align":"right"},"encoding":{"text":{"field":"n","type":"quantitative","format":".1f"},"x":{"datum":400},"y":{"datum":0}}}]}]},
{"transform":[{"filter":"datum.s=='R20'"}],"encoding":{"x":{"field":"t","type":"quantitative","scale":{"domain":[-400,400]},"title":null,"axis":{"values":[-400,-200,0,200,400]}}},"layer":[{"mark":{"type":"line","color":"#ff9e9e"},"encoding":{"y":{"field":"u","type":"quantitative","scale":{"domain":[0,1]},"title":null}}},{"mark":{"type":"line","color":"#ff2a00"},"encoding":{"y":{"field":"c","type":"quantitative","title":null}}},{"transform":[{"filter":"datum.t==400"},{"lookup":"s","from":{"data":{"name":"lab"},"key":"s","fields":["n"]}}],"layer":[{"mark":{"type":"text","align":"left"},"encoding":{"text":{"field":"s","type":"nominal"},"x":{"datum":-322},"y":{"datum":1}}},{"mark":{"type":"text","align":"right"},"encoding":{"text":{"field":"n","type":"quantitative","format":".1f"},"x":{"datum":400},"y":{"datum":0}}}]}]},
{"transform":[{"filter":"datum.s=='R37'"}],"encoding":{"x":{"field":"t","type":"quantitative","scale":{"domain":[-400,400]},"title":null,"axis":{"values":[-400,-200,0,200,400]}}},"layer":[{"mark":{"type":"line","color":"#ff9e9e"},"encoding":{"y":{"field":"u","type":"quantitative","scale":{"domain":[0,1]},"title":null}}},{"mark":{"type":"line","color":"#ff2a00"},"encoding":{"y":{"field":"c","type":"quantitative","title":null}}},{"transform":[{"filter":"datum.t==400"},{"lookup":"s","from":{"data":{"name":"lab"},"key":"s","fields":["n"]}}],"layer":[{"mark":{"type":"text","align":"left"},"encoding":{"text":{"field":"s","type":"nominal"},"x":{"datum":-322},"y":{"datum":1}}},{"mark":{"type":"text","align":"right"},"encoding":{"text":{"field":"n","type":"quantitative","format":".1f"},"x":{"datum":400},"y":{"datum":0}}}]}]},
{"transform":[{"filter":"datum.s=='R41'"}],"encoding":{"x":{"field":"t","type":"quantitative","scale":{"domain":[-400,400]},"title":null,"axis":{"values":[-400,-200,0,200,400]}}},"layer":[{"mark":{"type":"line","color":"#ff9e9e"},"encoding":{"y":{"field":"u","type":"quantitative","scale":{"domain":[0,1]},"title":null}}},{"mark":{"type":"line","color":"#ff2a00"},"encoding":{"y":{"field":"c","type":"quantitative","title":null}}},{"transform":[{"filter":"datum.t==400"},{"lookup":"s","from":{"data":{"name":"lab"},"key":"s","fields":["n"]}}],"layer":[{"mark":{"type":"text","align":"left"},"encoding":{"text":{"field":"s","type":"nominal"},"x":{"datum":-322},"y":{"datum":1}}},{"mark":{"type":"text","align":"right"},"encoding":{"text":{"field":"n","type":"quantitative","format":".1f"},"x":{"datum":400},"y":{"datum":0}}}]}]},
{"transform":[{"filter":"datum.s=='R47'"}],"encoding":{"x":{"field":"t","type":"quantitative","scale":{"domain":[-400,400]},"title":null,"axis":{"values":[-400,-200,0,200,400]}}},"layer":[{"mark":{"type":"line","color":"#ff9e9e"},"encoding":{"y":{"field":"u","type":"quantitative","scale":{"domain":[0,1]},"title":null}}},{"mark":{"type":"line","color":"#ff2a00"},"encoding":{"y":{"field":"c","type":"quantitative","title":null}}},{"transform":[{"filter":"datum.t==400"},{"lookup":"s","from":{"data":{"name":"lab"},"key":"s","fields":["n"]}}],"layer":[{"mark":{"type":"text","align":"left"},"encoding":{"text":{"field":"s","type":"nominal"},"x":{"datum":-322},"y":{"datum":1}}},{"mark":{"type":"text","align":"right"},"encoding":{"text":{"field":"n","type":"quantitative","format":".1f"},"x":{"datum":400},"y":{"datum":0}}}]}]},
{"transform":[{"filter":"datum.s=='R46'"}],"encoding":{"x":{"field":"t","type":"quantitative","scale":{"domain":[-400,400]},"title":null,"axis":{"values":[-400,-200,0,200,400]}}},"layer":[{"mark":{"type":"line","color":"#ff9e9e"},"encoding":{"y":{"field":"u","type":"quantitative","scale":{"domain":[0,1]},"title":"Proportion ’right first’ Responses","axis":{"labels":true,"titleX":-53,"titleY":89.5,"titleAngle":270,"titleAlign":"center","titleBaseline":"middle"}}}},{"mark":{"type":"line","color":"#ff2a00"},"encoding":{"y":{"field":"c","type":"quantitative"}}},{"transform":[{"filter":"datum.t==400"},{"lookup":"s","from":{"data":{"name":"lab"},"key":"s","fields":["n"]}}],"layer":[{"mark":{"type":"text","align":"left"},"encoding":{"text":{"field":"s","type":"nominal"},"x":{"datum":-322},"y":{"datum":1}}},{"mark":{"type":"text","align":"right"},"encoding":{"text":{"field":"n","type":"quantitative","format":".1f"},"x":{"datum":400},"y":{"datum":0}}}]}]},
{"transform":[{"filter":"datum.s=='R51'"}],"encoding":{"x":{"field":"t","type":"quantitative","scale":{"domain":[-400,400]},"title":null,"axis":{"values":[-400,-200,0,200,400]}}},"layer":[{"mark":{"type":"line","color":"#ff9e9e"},"encoding":{"y":{"field":"u","type":"quantitative","scale":{"domain":[0,1]},"title":null}}},{"mark":{"type":"line","color":"#ff2a00"},"encoding":{"y":{"field":"c","type":"quantitative","title":null}}},{"transform":[{"filter":"datum.t==400"},{"lookup":"s","from":{"data":{"name":"lab"},"key":"s","fields":["n"]}}],"layer":[{"mark":{"type":"text","align":"left"},"encoding":{"text":{"field":"s","type":"nominal"},"x":{"datum":-322},"y":{"datum":1}}},{"mark":{"type":"text","align":"right"},"encoding":{"text":{"field":"n","type":"quantitative","format":".1f"},"x":{"datum":400},"y":{"datum":0}}}]}]},
{"transform":[{"filter":"datum.s=='R21'"}],"encoding":{"x":{"field":"t","type":"quantitative","scale":{"domain":[-400,400]},"title":null,"axis":{"values":[-400,-200,0,200,400]}}},"layer":[{"mark":{"type":"line","color":"#ff9e9e"},"encoding":{"y":{"field":"u","type":"quantitative","scale":{"domain":[0,1]},"title":null}}},{"mark":{"type":"line","color":"#ff2a00"},"encoding":{"y":{"field":"c","type":"quantitative","title":null}}},{"transform":[{"filter":"datum.t==400"},{"lookup":"s","from":{"data":{"name":"lab"},"key":"s","fields":["n"]}}],"layer":[{"mark":{"type":"text","align":"left"},"encoding":{"text":{"field":"s","type":"nominal"},"x":{"datum":-322},"y":{"datum":1}}},{"mark":{"type":"text","align":"right"},"encoding":{"text":{"field":"n","type":"quantitative","format":".1f"},"x":{"datum":400},"y":{"datum":0}}}]}]},
{"transform":[{"filter":"datum.s=='R44'"}],"encoding":{"x":{"field":"t","type":"quantitative","scale":{"domain":[-400,400]},"title":null,"axis":{"values":[-400,-200,0,200,400]}}},"layer":[{"mark":{"type":"line","color":"#ff9e9e"},"encoding":{"y":{"field":"u","type":"quantitative","scale":{"domain":[0,1]},"title":null}}},{"mark":{"type":"line","color":"#ff2a00"},"encoding":{"y":{"field":"c","type":"quantitative","title":null}}},{"transform":[{"filter":"datum.t==400"},{"lookup":"s","from":{"data":{"name":"lab"},"key":"s","fields":["n"]}}],"layer":[{"mark":{"type":"text","align":"left"},"encoding":{"text":{"field":"s","type":"nominal"},"x":{"datum":-322},"y":{"datum":1}}},{"mark":{"type":"text","align":"right"},"encoding":{"text":{"field":"n","type":"quantitative","format":".1f"},"x":{"datum":400},"y":{"datum":0}}}]}]},
{"transform":[{"filter":"datum.s=='R25'"}],"encoding":{"x":{"field":"t","type":"quantitative","scale":{"domain":[-400,400]},"title":null,"axis":{"values":[-400,-200,0,200,400]}}},"layer":[{"mark":{"type":"line","color":"#ff9e9e"},"encoding":{"y":{"field":"u","type":"quantitative","scale":{"domain":[0,1]},"title":null}}},{"mark":{"type":"line","color":"#ff2a00"},"encoding":{"y":{"field":"c","type":"quantitative","title":null}}},{"transform":[{"filter":"datum.t==400"},{"lookup":"s","from":{"data":{"name":"lab"},"key":"s","fields":["n"]}}],"layer":[{"mark":{"type":"text","align":"left"},"encoding":{"text":{"field":"s","type":"nominal"},"x":{"datum":-322},"y":{"datum":1}}},{"mark":{"type":"text","align":"right"},"encoding":{"text":{"field":"n","type":"quantitative","format":".1f"},"x":{"datum":400},"y":{"datum":0}}}]}]},
{"transform":[{"filter":"datum.s=='R42'"}],"encoding":{"x":{"field":"t","type":"quantitative","scale":{"domain":[-400,400]},"title":null,"axis":{"values":[-400,-200,0,200,400]}}},"layer":[{"mark":{"type":"line","color":"#ff9e9e"},"encoding":{"y":{"field":"u","type":"quantitative","scale":{"domain":[0,1]},"title":null}}},{"mark":{"type":"line","color":"#ff2a00"},"encoding":{"y":{"field":"c","type":"quantitative","title":null}}},{"transform":[{"filter":"datum.t==400"},{"lookup":"s","from":{"data":{"name":"lab"},"key":"s","fields":["n"]}}],"layer":[{"mark":{"type":"text","align":"left"},"encoding":{"text":{"field":"s","type":"nominal"},"x":{"datum":-322},"y":{"datum":1}}},{"mark":{"type":"text","align":"right"},"encoding":{"text":{"field":"n","type":"quantitative","format":".1f"},"x":{"datum":400},"y":{"datum":0}}}]}]},
{"transform":[{"filter":"datum.s=='R24'"}],"encoding":{"x":{"field":"t","type":"quantitative","scale":{"domain":[-400,400]},"title":null,"axis":{"values":[-400,-200,0,200,400]}}},"layer":[{"mark":{"type":"line","color":"#ff9e9e"},"encoding":{"y":{"field":"u","type":"quantitative","scale":{"domain":[0,1]},"title":null,"axis":{"labels":true}}}},{"mark":{"type":"line","color":"#ff2a00"},"encoding":{"y":{"field":"c","type":"quantitative","title":null}}},{"transform":[{"filter":"datum.t==400"},{"lookup":"s","from":{"data":{"name":"lab"},"key":"s","fields":["n"]}}],"layer":[{"mark":{"type":"text","align":"left"},"encoding":{"text":{"field":"s","type":"nominal"},"x":{"datum":-322},"y":{"datum":1}}},{"mark":{"type":"text","align":"right"},"encoding":{"text":{"field":"n","type":"quantitative","format":".1f"},"x":{"datum":400},"y":{"datum":0}}}]}]},
{"transform":[{"filter":"datum.s=='L45'"}],"encoding":{"x":{"field":"t","type":"quantitative","scale":{"domain":[-400,400]},"title":null,"axis":{"values":[-400,-200,0,200,400]}}},"layer":[{"mark":{"type":"line","color":"#ff9e9e"},"encoding":{"y":{"field":"u","type":"quantitative","scale":{"domain":[0,1]},"title":null}}},{"mark":{"type":"line","color":"#ff2a00"},"encoding":{"y":{"field":"c","type":"quantitative","title":null}}},{"transform":[{"filter":"datum.t==400"},{"lookup":"s","from":{"data":{"name":"lab"},"key":"s","fields":["n"]}}],"layer":[{"mark":{"type":"text","align":"left"},"encoding":{"text":{"field":"s","type":"nominal"},"x":{"datum":-322},"y":{"datum":1}}},{"mark":{"type":"text","align":"right"},"encoding":{"text":{"field":"n","type":"quantitative","format":".1f"},"x":{"datum":400},"y":{"datum":0}}}]}]},
{"transform":[{"filter":"datum.s=='R14'"}],"encoding":{"x":{"field":"t","type":"quantitative","scale":{"domain":[-400,400]},"title":null,"axis":{"values":[-400,-200,0,200,400]}}},"layer":[{"mark":{"type":"line","color":"#ff9e9e"},"encoding":{"y":{"field":"u","type":"quantitative","scale":{"domain":[0,1]},"title":null}}},{"mark":{"type":"line","color":"#ff2a00"},"encoding":{"y":{"field":"c","type":"quantitative","title":null}}},{"transform":[{"filter":"datum.t==400"},{"lookup":"s","from":{"data":{"name":"lab"},"key":"s","fields":["n"]}}],"layer":[{"mark":{"type":"text","align":"left"},"encoding":{"text":{"field":"s","type":"nominal"},"x":{"datum":-322},"y":{"datum":1}}},{"mark":{"type":"text","align":"right"},"encoding":{"text":{"field":"n","type":"quantitative","format":".1f"},"x":{"datum":400},"y":{"datum":0}}}]}]},
{"transform":[{"filter":"datum.s=='R15'"}],"encoding":{"x":{"field":"t","type":"quantitative","scale":{"domain":[-400,400]},"title":null,"axis":{"values":[-400,-200,0,200,400]}}},"layer":[{"mark":{"type":"line","color":"#ff9e9e"},"encoding":{"y":{"field":"u","type":"quantitative","scale":{"domain":[0,1]},"title":null}}},{"mark":{"type":"line","color":"#ff2a00"},"encoding":{"y":{"field":"c","type":"quantitative","title":null}}},{"transform":[{"filter":"datum.t==400"},{"lookup":"s","from":{"data":{"name":"lab"},"key":"s","fields":["n"]}}],"layer":[{"mark":{"type":"text","align":"left"},"encoding":{"text":{"field":"s","type":"nominal"},"x":{"datum":-322},"y":{"datum":1}}},{"mark":{"type":"text","align":"right"},"encoding":{"text":{"field":"n","type":"quantitative","format":".1f"},"x":{"datum":400},"y":{"datum":0}}}]}]},
{"transform":[{"filter":"datum.s=='R52'"}],"encoding":{"x":{"field":"t","type":"quantitative","scale":{"domain":[-400,400]},"title":null,"axis":{"values":[-400,-200,0,200,400]}}},"layer":[{"mark":{"type":"line","color":"#ff9e9e"},"encoding":{"y":{"field":"u","type":"quantitative","scale":{"domain":[0,1]},"title":null}}},{"mark":{"type":"line","color":"#ff2a00"},"encoding":{"y":{"field":"c","type":"quantitative","title":null}}},{"transform":[{"filter":"datum.t==400"},{"lookup":"s","from":{"data":{"name":"lab"},"key":"s","fields":["n"]}}],"layer":[{"mark":{"type":"text","align":"left"},"encoding":{"text":{"field":"s","type":"nominal"},"x":{"datum":-322},"y":{"datum":1}}},{"mark":{"type":"text","align":"right"},"encoding":{"text":{"field":"n","type":"quantitative","format":".1f"},"x":{"datum":400},"y":{"datum":0}}}]}]},
{"transform":[{"filter":"datum.s=='L34'"}],"encoding":{"x":{"field":"t","type":"quantitative","scale":{"domain":[-400,400]},"title":null,"axis":{"values":[-400,-200,0,200,400]}}},"layer":[{"mark":{"type":"line","color":"#ff9e9e"},"encoding":{"y":{"field":"u","type":"quantitative","scale":{"domain":[0,1]},"title":null}}},{"mark":{"type":"line","color":"#ff2a00"},"encoding":{"y":{"field":"c","type":"quantitative","title":null}}},{"transform":[{"filter":"datum.t==400"},{"lookup":"s","from":{"data":{"name":"lab"},"key":"s","fields":["n"]}}],"layer":[{"mark":{"type":"text","align":"left"},"encoding":{"text":{"field":"s","type":"nominal"},"x":{"datum":-322},"y":{"datum":1}}},{"mark":{"type":"text","align":"right"},"encoding":{"text":{"field":"n","type":"quantitative","format":".1f"},"x":{"datum":400},"y":{"datum":0}}}]}]},
{"transform":[{"filter":"datum.s=='R50'"}],"encoding":{"x":{"field":"t","type":"quantitative","scale":{"domain":[-400,400]},"title":null,"axis":{"values":[-400,-200,0,200,400],"labels":true}}},"layer":[{"mark":{"type":"line","color":"#ff9e9e"},"encoding":{"y":{"field":"u","type":"quantitative","scale":{"domain":[0,1]},"title":null,"axis":{"labels":true}}}},{"mark":{"type":"line","color":"#ff2a00"},"encoding":{"y":{"field":"c","type":"quantitative","title":null}}},{"transform":[{"filter":"datum.t==400"},{"lookup":"s","from":{"data":{"name":"lab"},"key":"s","fields":["n"]}}],"layer":[{"mark":{"type":"text","align":"left"},"encoding":{"text":{"field":"s","type":"nominal"},"x":{"datum":-322},"y":{"datum":1}}},{"mark":{"type":"text","align":"right"},"encoding":{"text":{"field":"n","type":"quantitative","format":".1f"},"x":{"datum":400},"y":{"datum":0}}}]}]},
{"transform":[{"filter":"datum.s=='L26'"}],"encoding":{"x":{"field":"t","type":"quantitative","scale":{"domain":[-400,400]},"title":null,"axis":{"values":[-400,-200,0,200,400],"labels":true}}},"layer":[{"mark":{"type":"line","color":"#ff9e9e"},"encoding":{"y":{"field":"u","type":"quantitative","scale":{"domain":[0,1]},"title":null}}},{"mark":{"type":"line","color":"#ff2a00"},"encoding":{"y":{"field":"c","type":"quantitative","title":null}}},{"transform":[{"filter":"datum.t==400"},{"lookup":"s","from":{"data":{"name":"lab"},"key":"s","fields":["n"]}}],"layer":[{"mark":{"type":"text","align":"left"},"encoding":{"text":{"field":"s","type":"nominal"},"x":{"datum":-322},"y":{"datum":1}}},{"mark":{"type":"text","align":"right"},"encoding":{"text":{"field":"n","type":"quantitative","format":".1f"},"x":{"datum":400},"y":{"datum":0}}}]}]},
{"transform":[{"filter":"datum.s=='R23'"}],"encoding":{"x":{"field":"t","type":"quantitative","scale":{"domain":[-400,400]},"title":null,"axis":{"values":[-400,-200,0,200,400],"labels":true}}},"layer":[{"mark":{"type":"line","color":"#ff9e9e"},"encoding":{"y":{"field":"u","type":"quantitative","scale":{"domain":[0,1]},"title":null}}},{"mark":{"type":"line","color":"#ff2a00"},"encoding":{"y":{"field":"c","type":"quantitative","title":null}}},{"transform":[{"filter":"datum.t==400"},{"lookup":"s","from":{"data":{"name":"lab"},"key":"s","fields":["n"]}}],"layer":[{"mark":{"type":"text","align":"left"},"encoding":{"text":{"field":"s","type":"nominal"},"x":{"datum":-322},"y":{"datum":1}}},{"mark":{"type":"text","align":"right"},"encoding":{"text":{"field":"n","type":"quantitative","format":".1f"},"x":{"datum":400},"y":{"datum":0}}}]}]},
{"transform":[{"filter":"datum.s=='R36'"}],"encoding":{"x":{"field":"t","type":"quantitative","scale":{"domain":[-400,400]},"title":"Stimulus Onset Asynchrony (ms)","axis":{"values":[-400,-200,0,200,400],"labels":true,"titleX":-8,"titleY":52,"titleAlign":"center","titleBaseline":"middle"}}},"layer":[{"mark":{"type":"line","color":"#ff9e9e"},"encoding":{"y":{"field":"u","type":"quantitative","scale":{"domain":[0,1]},"title":null}}},{"mark":{"type":"line","color":"#ff2a00"},"encoding":{"y":{"field":"c","type":"quantitative","title":null}}},{"transform":[{"filter":"datum.t==400"},{"lookup":"s","from":{"data":{"name":"lab"},"key":"s","fields":["n"]}}],"layer":[{"mark":{"type":"text","align":"left"},"encoding":{"text":{"field":"s","type":"nominal"},"x":{"datum":-322},"y":{"datum":1}}},{"mark":{"type":"text","align":"right"},"encoding":{"text":{"field":"n","type":"quantitative","format":".1f"},"x":{"datum":400},"y":{"datum":0}}}]}]},
{"transform":[{"filter":"datum.s=='R22'"}],"encoding":{"x":{"field":"t","type":"quantitative","scale":{"domain":[-400,400]},"title":null,"axis":{"values":[-400,-200,0,200,400],"labels":true}}},"layer":[{"mark":{"type":"line","color":"#ff9e9e"},"encoding":{"y":{"field":"u","type":"quantitative","scale":{"domain":[0,1]},"title":null}}},{"mark":{"type":"line","color":"#ff2a00"},"encoding":{"y":{"field":"c","type":"quantitative","title":null}}},{"transform":[{"filter":"datum.t==400"},{"lookup":"s","from":{"data":{"name":"lab"},"key":"s","fields":["n"]}}],"layer":[{"mark":{"type":"text","align":"left"},"encoding":{"text":{"field":"s","type":"nominal"},"x":{"datum":-322},"y":{"datum":1}}},{"mark":{"type":"text","align":"right"},"encoding":{"text":{"field":"n","type":"quantitative","format":".1f"},"x":{"datum":400},"y":{"datum":0}}}]}]},
{"transform":[{"filter":"datum.s=='R13'"}],"encoding":{"x":{"field":"t","type":"quantitative","scale":{"domain":[-400,400]},"title":null,"axis":{"values":[-400,-200,0,200,400],"labels":true}}},"layer":[{"mark":{"type":"line","color":"#ff9e9e"},"encoding":{"y":{"field":"u","type":"quantitative","scale":{"domain":[0,1]},"title":null}}},{"mark":{"type":"line","color":"#ff2a00"},"encoding":{"y":{"field":"c","type":"quantitative","title":null}}},{"transform":[{"filter":"datum.t==400"},{"lookup":"s","from":{"data":{"name":"lab"},"key":"s","fields":["n"]}}],"layer":[{"mark":{"type":"text","align":"left"},"encoding":{"text":{"field":"s","type":"nominal"},"x":{"datum":-322},"y":{"datum":1}}},{"mark":{"type":"text","align":"right"},"encoding":{"text":{"field":"n","type":"quantitative","format":".1f"},"x":{"datum":400},"y":{"datum":0}}}]}]}
]}
],
"config":{
"font":"Liberation Sans",
"view":{"stroke":null,"continuousWidth":59,"continuousHeight":57},
"line":{"strokeWidth":2},
"text":{"fontSize":13,"baseline":"middle","color":"#000"},
"axis":{"grid":false,"labels":false,"labelFontSize":13,"labelColor":"#000","tickSize":-2,"tickColor":"#999","titleFontWeight":"normal","titleFontSize":24,"titleColor":"#000","labelFlush":false,"labelOverlap":false},
"axisX":{"offset":12,"labelExpr":"abs(datum.value)==400?format(datum.value,'d'):''","domainColor":"#888","labelPadding":6},
"axisY":{"offset":7,"values":[0,0.25,0.5,0.75,1],"labelExpr":"(datum.value*2)%1==0?format(datum.value,'.1f'):''","domainColor":"#bbb","labelPadding":8},
"title":{"fontSize":38,"fontWeight":"normal","anchor":"start","color":"#000"}
}
}
